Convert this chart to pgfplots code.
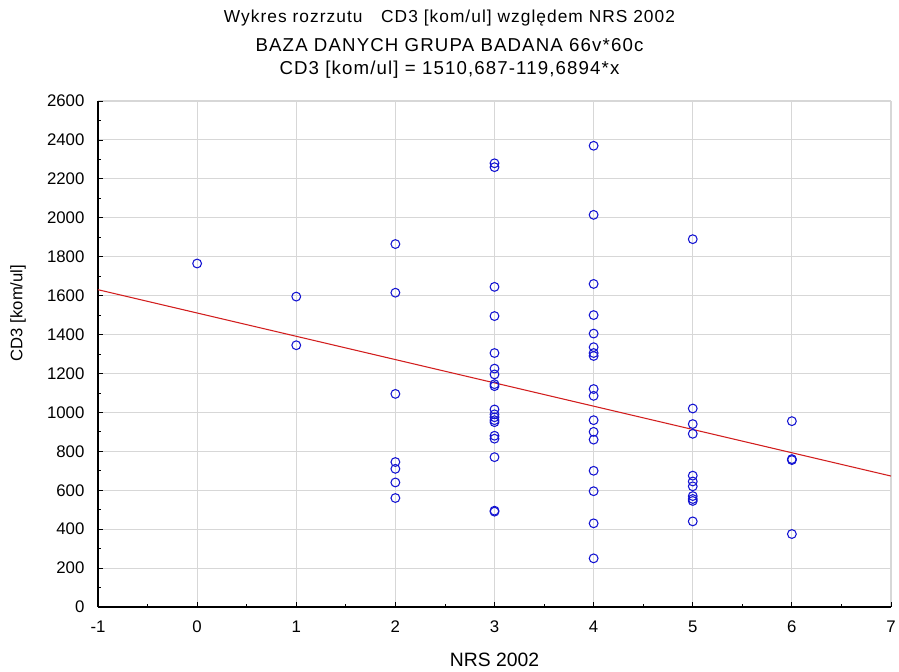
\documentclass[border=0pt]{standalone}
\usepackage{fontspec}
\setmainfont{Liberation Sans}
\newfontfamily\titlefont[LetterSpace=6]{Liberation Sans}
\usepackage{pgfplots}
\pgfplotsset{compat=1.18}
\definecolor{ptblue}{RGB}{20,20,210}
\definecolor{regred}{RGB}{210,30,30}
\definecolor{gridgray}{RGB}{215,215,215}
\begin{document}
\fontsize{12}{14}\selectfont
\begin{tikzpicture}
\begin{axis}[
  scale only axis,
  width=594.75pt, height=379.5pt,
  xmin=-1, xmax=7, ymin=0, ymax=2600,
  xtick={-1,0,...,7}, ytick={0,200,...,2600},
  minor x tick num=1, minor y tick num=1,
  axis lines=left, axis line style={-, black, line width=0.8pt},
  tick align=inside, major tick length=4pt, minor tick length=2.5pt,
  tick style={black, line width=0.6pt},
  grid=major, major grid style={gridgray, line width=0.8pt},
  /pgf/number format/assume math mode=true,
  /pgf/number format/1000 sep={},
  ticklabel style={font=\fontsize{12.6}{14}\selectfont},
  yticklabel style={xshift=-6pt},
  xticklabel style={yshift=-6pt},
  xlabel={NRS 2002},
  ylabel={CD3 [kom/ul]},
  xlabel style={at={(axis description cs:0.5,0)}, anchor=center, yshift=-39.75pt, font=\fontsize{14.5}{16}\selectfont},
  ylabel style={at={(axis description cs:-0.1009,0.581)}, anchor=center, font=\fontsize{12.5}{14}\selectfont},
  clip=false,
]
\addplot[regred, line width=0.8pt] coordinates {(-1,1630.4) (7,672.9)};
\addplot[only marks, mark=o, mark size=3.3pt, ptblue, mark options={line width=0.8pt}] table {
x y
0 1765
1 1595
1 1345
2 1865
2 1615
2 1095
2 745
2 710
2 640
2 560
3 2280
3 2260
3 1645
3 1495
3 1305
3 1225
3 1195
3 1145
3 1135
3 1015
3 990
3 975
3 960
3 950
3 880
3 865
3 770
3 495
3 490
4 2370
4 2015
4 1660
4 1500
4 1405
4 1335
4 1305
4 1290
4 1120
4 1085
4 960
4 900
4 860
4 700
4 595
4 430
4 250
5 1890
5 1020
5 940
5 890
5 675
5 645
5 620
5 570
5 555
5 545
5 440
6 955
6 760
6 755
6 375
};
\end{axis}
\node[font=\titlefont\fontsize{13}{15}\selectfont] at ([xshift=263.6pt, yshift=62.25pt]current axis.north west) {Wykres rozrzutu\hspace{14pt}CD3 [kom/ul] względem NRS 2002};
\node[font=\titlefont\fontsize{14}{16}\selectfont] at ([xshift=263.6pt, yshift=42pt]current axis.north west) {BAZA DANYCH GRUPA BADANA 66v*60c};
\node[font=\titlefont\fontsize{14}{16}\selectfont] at ([xshift=263.6pt, yshift=23.25pt]current axis.north west) {CD3 [kom/ul] = 1510,687-119,6894*x};
\pgfresetboundingbox
\path[use as bounding box] ([xshift=-73.5pt, yshift=-48pt]current axis.south west) rectangle ([xshift=6pt, yshift=75.75pt]current axis.north east);
\end{tikzpicture}
\end{document}
